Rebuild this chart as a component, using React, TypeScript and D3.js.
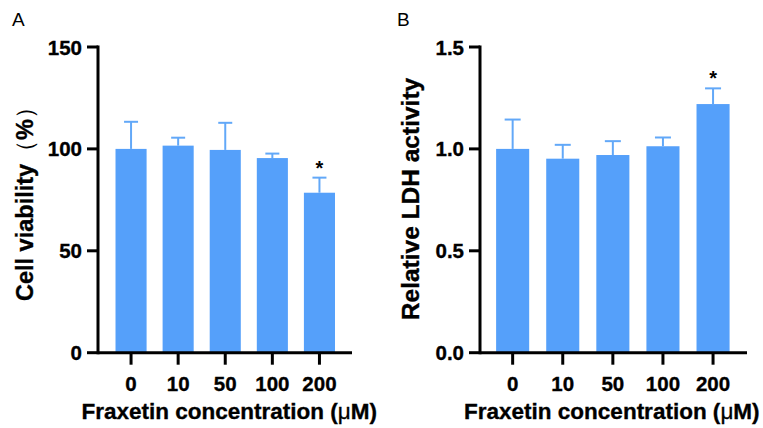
import React from "react";
import * as d3 from "d3";

const categories = ["0", "10", "50", "100", "200"];
const viabilityMean = [100, 101.6, 99.5, 95.5, 78.5];
const viabilityErr = [13.3, 3.9, 13.3, 2.2, 7.4];
const viabilitySig = ["", "", "", "", "*"];
const viabilityTicks = [0, 50, 100, 150];

const ldhMean = [1.0, 0.952, 0.97, 1.013, 1.22];
const ldhErr = [0.144, 0.068, 0.068, 0.043, 0.077];
const ldhSig = ["", "", "", "", "*"];
const ldhTicks = [0, 0.5, 1.0, 1.5];

const BAR = "#55a0fa";
const ERR = "#62a8f8";
const FONT = "'Liberation Sans', Arial, Helvetica, sans-serif";

type PanelProps = {
  letter: string;
  letterX: number;
  axisX: number;
  axisEnd: number;
  bandRange: [number, number];
  domainMax: number;
  means: number[];
  errs: number[];
  sig: string[];
  ticks: number[];
  fmt: (v: number) => string;
  yLabel: React.ReactNode;
  yLabelX: number;
  yLabelY: number;
  yLabelSize: number;
  capW: number;
  titleShift: number;
};

function Panel(p: PanelProps) {
  const y = d3.scaleLinear().domain([0, p.domainMax]).range([352.7, 47]);
  const x = d3
    .scaleBand<string>()
    .domain(categories)
    .range(p.bandRange)
    .paddingInner(0.34)
    .paddingOuter(0.17);
  const bw = x.bandwidth();
  const y0 = y(0);
  const titleCenterX = (p.bandRange[0] + p.bandRange[1]) / 2 + p.titleShift;
  const heavy = { stroke: "#000", strokeWidth: 0.35 };
  return (
    <g fontFamily={FONT}>
      <text x={p.letterX} y={26} fontSize={19} fill="#000">
        {p.letter}
      </text>
      {categories.map((c, i) => {
        const cx = (x(c) as number) + bw / 2;
        const top = y(p.means[i]);
        const et = y(p.means[i] + p.errs[i]);
        return (
          <g key={c}>
            <rect x={x(c)} y={top} width={bw} height={y0 - top} fill={BAR} />
            <line x1={cx} x2={cx} y1={top} y2={et} stroke={ERR} strokeWidth={2} />
            <line
              x1={cx - p.capW / 2}
              x2={cx + p.capW / 2}
              y1={et}
              y2={et}
              stroke={ERR}
              strokeWidth={2}
            />
            {p.sig[i] ? (
              <text x={cx} y={et - 3} textAnchor="middle" fontSize={20} fontWeight="bold">
                {p.sig[i]}
              </text>
            ) : null}
            <line x1={cx} x2={cx} y1={y0} y2={y0 + 12} stroke="#000" strokeWidth={3} />
            <text
              x={cx}
              y={390.5}
              textAnchor="middle"
              fontSize={20.5}
              fontWeight="bold"
              {...heavy}
            >
              {c}
            </text>
          </g>
        );
      })}
      <line x1={p.axisX} x2={p.axisX} y1={y(p.domainMax) - 1.5} y2={y0 + 1.5} stroke="#000" strokeWidth={3} />
      <line x1={p.axisX} x2={p.axisEnd} y1={y0} y2={y0} stroke="#000" strokeWidth={3} />
      {p.ticks.map((t) => (
        <g key={t}>
          <line x1={p.axisX - 11} x2={p.axisX} y1={y(t)} y2={y(t)} stroke="#000" strokeWidth={3} />
          <text
            x={p.axisX - 16}
            y={y(t) + 7.5}
            textAnchor="end"
            fontSize={20.5}
            fontWeight="bold"
            {...heavy}
          >
            {p.fmt(t)}
          </text>
        </g>
      ))}
      <text
        x={titleCenterX}
        y={419}
        textAnchor="middle"
        fontSize={22.5}
        fontWeight="bold"
        {...heavy}
      >
        Fraxetin concentration (<tspan fontWeight="normal">μ</tspan>M)
      </text>
      <text
        transform={`translate(${p.yLabelX},${p.yLabelY}) rotate(-90)`}
        textAnchor="middle"
        fontSize={p.yLabelSize}
        fontWeight="bold"
        {...heavy}
      >
        {p.yLabel}
      </text>
    </g>
  );
}

export default function App() {
  return (
    <svg
      width={763}
      height={428}
      viewBox="0 0 763 428"
      style={{ position: "absolute", left: 0, top: 0, display: "block", background: "#fff" }}
    >
      <rect x={0} y={0} width={763} height={428} fill="#fff" />
      <Panel
        letter="A"
        letterX={12}
        axisX={98}
        axisEnd={352}
        bandRange={[107.5, 343]}
        domainMax={150}
        means={viabilityMean}
        errs={viabilityErr}
        sig={viabilitySig}
        ticks={viabilityTicks}
        fmt={(v) => d3.format("d")(v)}
        yLabel={
          <>
            Cell viability
            <tspan fontWeight="normal" strokeWidth={0}>（</tspan>
            <tspan>%</tspan>
            <tspan fontWeight="normal" strokeWidth={0}>）</tspan>
          </>
        }
        yLabelX={33}
        yLabelY={198}
        yLabelSize={23.5}
        capW={14}
        titleShift={4}
      />
      <Panel
        letter="B"
        letterX={397}
        axisX={480}
        axisEnd={747}
        bandRange={[487.6, 738.1]}
        domainMax={1.5}
        means={ldhMean}
        errs={ldhErr}
        sig={ldhSig}
        ticks={ldhTicks}
        fmt={(v) => d3.format(".1f")(v)}
        yLabel="Relative LDH activity"
        yLabelX={419}
        yLabelY={199}
        yLabelSize={24.5}
        capW={16}
        titleShift={-1}
      />
    </svg>
  );
}
